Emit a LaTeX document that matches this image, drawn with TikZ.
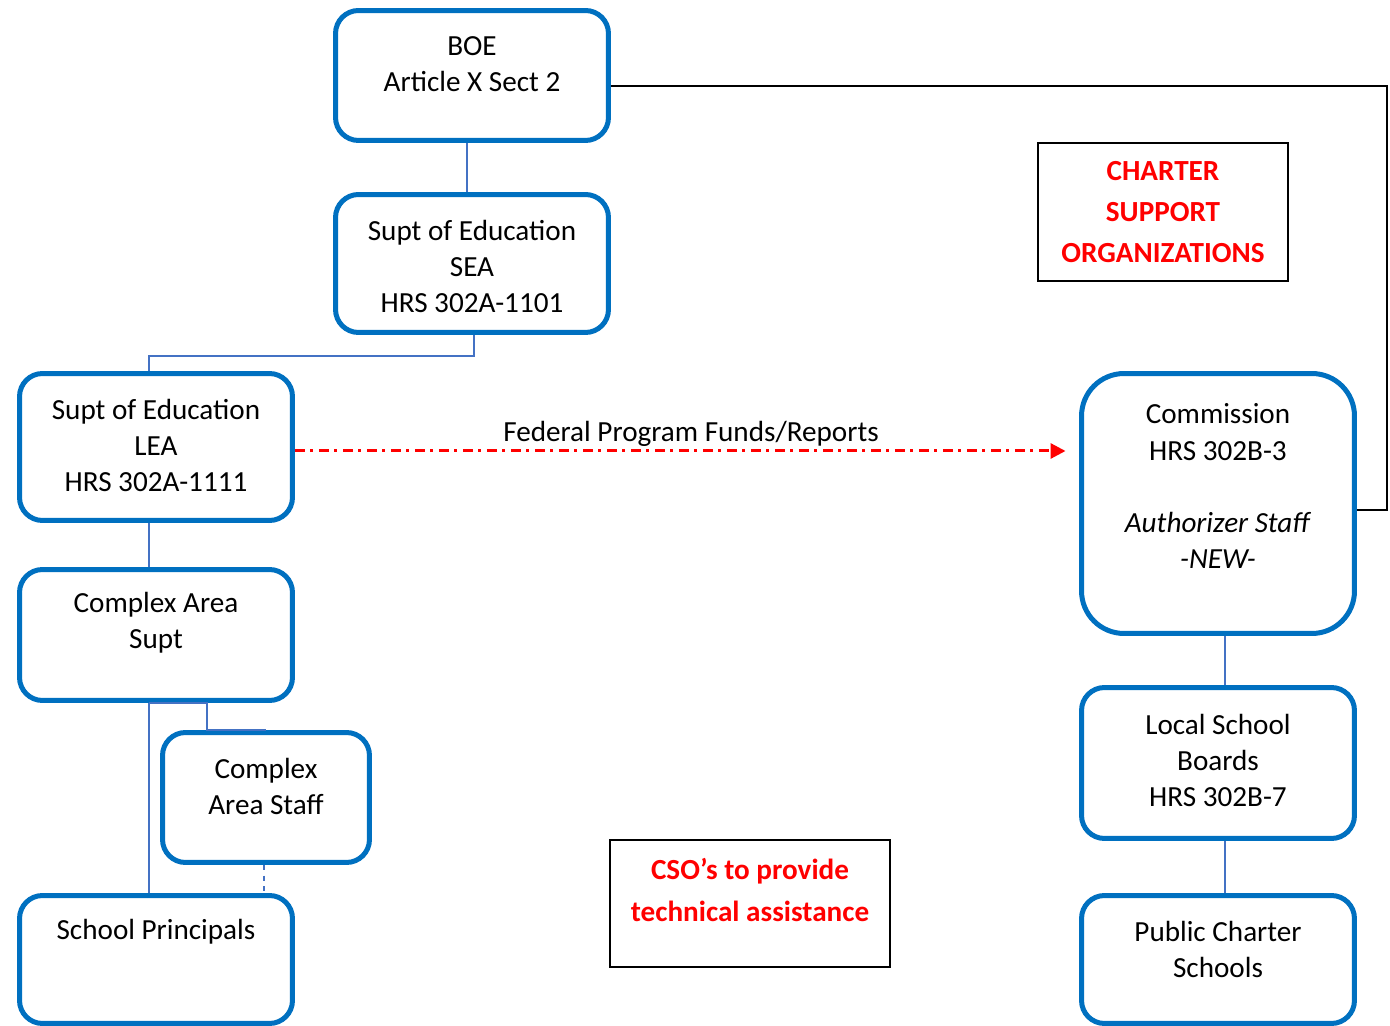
\documentclass[tikz,border=0pt]{standalone}
\usepackage{fontspec}
\setmainfont{Carlito}
\usepackage{xcolor}
\usepackage{tikz}
\usetikzlibrary{positioning,arrows.meta,calc}
\definecolor{boxblue}{RGB}{0,112,192}
\definecolor{linkblue}{RGB}{68,114,196}
\definecolor{alertred}{RGB}{255,0,0}

\begin{document}
\begin{tikzpicture}[
    x=0.02cm, y=-0.02cm,
    orgbox/.style={rectangle, draw=boxblue, line width=0.1cm, rounded corners=0.46cm,
                   minimum width=5.46cm, inner sep=0pt},
    notebox/.style={rectangle, draw=black, line width=0.04cm, inner sep=0pt},
    txt/.style={align=center, inner sep=0pt, font=\fontsize{16.6}{20.5}\selectfont},
    redtxt/.style={align=center, inner sep=0pt, text=alertred,
                   font=\fontsize{16.6}{23.5}\selectfont\bfseries},
    link/.style={draw=linkblue, line width=0.04cm},
    tie/.style={draw=black, line width=0.04cm},
    flow/.style={draw=alertred, line width=0.06cm,
                 dash pattern=on 0.2cm off 0.11cm on 0.06cm off 0.11cm,
                 -{Triangle[length=0.3cm,width=0.3cm]}}
]
\useasboundingbox (0,0) rectangle (1390,1026);

% State side
\node[orgbox, minimum height=2.6cm] (boe) at (472,75.5) {};
\node[txt] (boeText) at ([yshift=0.22cm]boe.center) {BOE\\Article X Sect 2};

\node[orgbox, minimum height=2.76cm] (sea) at (472,263.5) {};
\node[txt] (seaText) at ([yshift=-0.05cm]sea.center) {Supt of Education\\SEA\\HRS 302A-1101};

% Department side
\node[orgbox, minimum height=2.94cm] (lea) at (156,447) {};
\node[txt] (leaText) at ([yshift=0.04cm]lea.center) {Supt of Education\\LEA\\HRS 302A-1111};

\node[orgbox, minimum height=2.62cm] (supt) at (156,635) {};
\node[txt] (suptText) at ([yshift=0.24cm]supt.center) {Complex Area\\Supt};

\node[orgbox, minimum width=4.14cm, minimum height=2.6cm] (staff) at (266,797.5) {};
\node[txt] (staffText) at ([yshift=0.23cm]staff.center) {Complex\\Area Staff};

\node[orgbox, minimum height=2.56cm] (principals) at (156,959.5) {};
\node[txt] (principalsText) at ([yshift=0.55cm]principals.center) {School Principals};

% Charter side
\node[orgbox, rounded corners=0.85cm, minimum height=5.2cm] (comm) at (1218,503.5) {};
\node[txt] (commText) at ([yshift=0.35cm]comm.center)
    {Commission\\HRS 302B-3\\[20.5pt]\textit{Authorizer Staff}\\\textit{-NEW-}};

\node[orgbox, minimum height=3.02cm] (boards) at (1218,763) {};
\node[txt] (boardsText) at ([yshift=0.06cm]boards.center) {Local School\\Boards\\HRS 302B-7};

\node[orgbox, minimum height=2.56cm] (charters) at (1218,959.5) {};
\node[txt] (chartersText) at ([yshift=0.21cm]charters.center) {Public Charter\\Schools};

% Support notes
\node[notebox, minimum width=5.02cm, minimum height=2.78cm] (orgs) at (1163,212) {};
\node[redtxt] (orgsText) at (orgs.center) {CHARTER\\SUPPORT\\ORGANIZATIONS};

\node[notebox, minimum width=5.62cm, minimum height=2.56cm] (help) at (750,903.5) {};
\node[redtxt] (helpText) at ([yshift=0.27cm]help.center) {CSO’s to provide\\technical assistance};

% Connections
\draw[link] ([xshift=-0.1cm]boe.south) -- ([xshift=-0.1cm]sea.north);
\draw[link] ([xshift=0.04cm]sea.south) -- ++(0,21) -| ([xshift=-0.14cm]lea.north);
\draw[link] ([xshift=-0.14cm]lea.south) -- ([xshift=-0.14cm]supt.north);
\draw[link] ([xshift=-0.14cm]supt.south) -- ([xshift=-0.14cm]principals.north);
\draw[link] ([xshift=-0.14cm]supt.south) -- ++(58,0) |- (staff.north);
\draw[link, dashed] ([xshift=-0.04cm]staff.south) -- ([xshift=-0.04cm]staff.south |- principals.north);
\draw[link] ([xshift=0.14cm]comm.south) -- ([xshift=0.14cm]boards.north);
\draw[link] ([xshift=0.14cm]boards.south) -- ([xshift=0.14cm]charters.north);
\draw[tie] ([yshift=-0.21cm]boe.east) -- ++(776,0) |- ([yshift=-0.13cm]comm.east);

% Federal flow
\draw[flow] ([yshift=-0.08cm]lea.east) -- ([xshift=-0.27cm,yshift=-0.08cm]comm.west |- lea.east);
\node[txt] (fundsLabel) at (691,434) {Federal Program Funds/Reports};

\end{tikzpicture}
\end{document}
